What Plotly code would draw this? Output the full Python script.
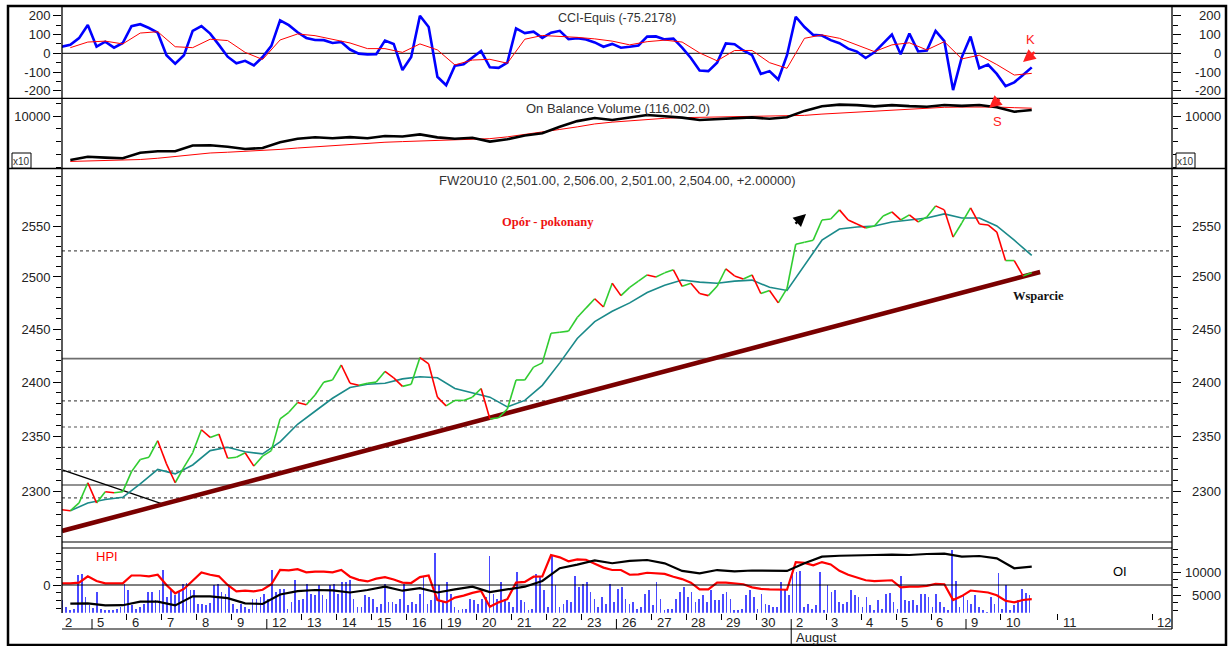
import math
import plotly.graph_objects as go

W, H = 1230, 646
FONT = "Liberation Sans, Arial, sans-serif"
SERIF = "Liberation Serif, Times New Roman, serif"
TXT = "#222222"

# ------------------------------------------------------------------ data
# time axis: trading-day index (Jul 5 = 0 ... Aug 10 = 26)
DAY_LABELS = ["2", "5", "6", "7", "8", "9", "12", "13", "14", "15", "16", "19", "20", "21", "22",
              "23", "26", "27", "28", "29", "30", "2", "3", "4", "5", "6", "9", "10", "11", "12"]
DAY_INDEX = [-1, 0, 1, 2, 3, 4, 5, 6, 7, 8, 9, 10, 11, 12, 13,
             14, 15, 16, 17, 18, 19, 20, 21, 22, 23, 24, 25, 26, 27.63, 30.32]
WEEK_STARTS = [0, 5, 10, 15, 20, 25]
MONTH_START = 20
MONTH_NAME = "August"
X_RANGE = [-0.858, 30.892]

# FW20U10 close, quarter-day samples starting at day -0.87
PRICE_T0, PRICE_STEP = -0.87, 0.25
PRICE = [2284, 2283, 2290, 2308, 2290, 2300, 2299, 2300, 2318, 2329,
         2331, 2346, 2325, 2308, 2322, 2335, 2356, 2349, 2352, 2330,
         2331, 2335, 2323, 2332, 2337, 2366, 2372, 2381, 2379, 2388,
         2400, 2402, 2416, 2399, 2397, 2399, 2400, 2410, 2404, 2396,
         2398, 2423, 2417, 2386, 2378, 2383, 2383, 2386, 2394, 2366,
         2367, 2375, 2402, 2402, 2414, 2418, 2446, 2447, 2448, 2461,
         2470, 2479, 2471, 2494, 2482, 2490, 2496, 2502, 2500, 2504,
         2507, 2491, 2494, 2484, 2482, 2491, 2508, 2501, 2498, 2502,
         2484, 2487, 2475, 2489, 2532, 2534, 2536, 2556, 2557, 2566,
         2556, 2552, 2548, 2550, 2560, 2564, 2556, 2561, 2554, 2559,
         2570, 2566, 2539, 2553, 2568, 2552, 2551, 2544, 2516, 2516,
         2501, 2504]

# half-day samples starting at day -0.62
HALF_T0, HALF_STEP = -0.62, 0.5
PRICE_MA = [2283, 2290, 2293, 2295, 2307, 2320, 2316, 2324, 2337, 2340,
            2336, 2334, 2345, 2361, 2373, 2385, 2395, 2398, 2399, 2403,
            2405, 2404, 2394, 2390, 2386, 2377, 2383, 2397, 2418, 2441,
            2457, 2467, 2475, 2485, 2492, 2497, 2495, 2494, 2496, 2497,
            2490, 2487, 2512, 2536, 2547, 2549, 2550, 2554, 2556, 2558,
            2562, 2558, 2558, 2550, 2536, 2521]

CCI = [35, 45, 81, 151, 35, 62, 30, 55, 145, 155,
       135, 110, -10, -55, -10, 120, 145, 105, 45, -18,
       -53, -40, -65, -20, 40, 176, 150, 112, 82, 71,
       70, 55, 60, 20, -2, -6, -5, 68, 50, -89,
       -20, 200, 140, -125, -170, -66, -58, -25, 12, -75,
       -78, -50, 133, 108, 115, 82, 110, 120, 75, 80,
       74, 58, 35, 50, 30, 35, 42, 89, 90, 74,
       78, 30, -25, -92, -95, -50, 53, 48, 15, -10,
       -110, -95, -140, -10, 195, 140, 98, 95, 70, 54,
       25, 9, -25, 5, 53, 100, -5, 105, 10, 15,
       120, 65, -196, -20, 89, -80, -60, -110, -175, -155,
       -116, -75]
CCI_MA = [30, 60, 65, 50, 108, 115, 35, 30, 75, 68,
          5, -33, 71, 103, 94, 76, 55, 25, 25, 5,
          50, 18, -62, -36, -32, -53, 75, 95, 92, 85,
          77, 65, 45, 62, 70, 60, 2, -40, 15, 15,
          -50, -80, 80, 98, 80, 45, 9, 45, 56, 18,
          62, -30, -10, -60, -116, -107]

OBV = [6563, 6820, 6750, 6700, 7133, 7250, 7250, 7700, 7720, 7600,
       7420, 7500, 7950, 8220, 8340, 8260, 8350, 8260, 8438, 8400,
       8560, 8330, 8220, 8305, 8000, 8180, 8470, 8648, 9164, 9600,
       9840, 9690, 9880, 10078, 9980, 9870, 9690, 9760, 9820, 9890,
       9780, 9898, 10400, 10760, 10890, 10850, 10750, 10850, 10770, 10727,
       10859, 10790, 10859, 10680, 10336, 10469]
OBV_MA = [6450, 6480, 6520, 6560, 6600, 6700, 6850, 7000, 7110, 7170,
          7230, 7300, 7390, 7500, 7600, 7700, 7800, 7900, 7950, 8000,
          8050, 8100, 8140, 8180, 8230, 8370, 8550, 8750, 8950, 9150,
          9380, 9520, 9640, 9740, 9820, 9870, 9900, 9920, 9940, 9950,
          9960, 9990, 10050, 10150, 10230, 10300, 10380, 10450, 10560, 10620,
          10680, 10700, 10720, 10700, 10650, 10610]

HPI = [0.2, 0.2, 0.3, 1.1, 0.5, 0.2, 0.2, 0.2, 1.2, 1.2,
       1.1, 1.3, 0.0, -1.05, -0.5, 0.6, 1.6, 1.3, 1.1, 0.0,
       -0.8, -0.7, -0.8, -0.6, 0.1, 1.9, 1.85, 2.0, 1.6, 1.7,
       1.7, 1.6, 1.9, 1.05, 0.65, 0.45, 0.8, 1.0, 0.7, 0.3,
       0.25, 1.0, 1.2, -1.9, -2.2, -1.6, -1.35, -1.0, -0.75, -2.75,
       -2.2, -1.8, 0.3, 0.4, 1.05, 1.1, 3.8, 3.5, 3.0, 3.25,
       3.2, 2.7, 2.2, 1.9, 1.9, 1.3, 1.35, 1.55, 1.5, 1.4,
       1.05, 0.75, 0.3, -0.55, -0.55, 0.3, 0.3, 0.2, 0.1, -0.3,
       -0.5, -0.55, -0.6, -0.6, 2.9, 2.8, 2.5, 2.9, 2.6, 1.8,
       1.3, 0.95, 0.6, 0.5, 0.55, 0.6, -0.3, -0.2, -0.2, -0.1,
       0.15, 0.1, -1.9, -1.4, -0.7, -0.8, -0.95, -1.3, -2.0, -2.2,
       -1.9, -1.8]

OI = [3100, 3172, 2700, 2750, 3524, 3524, 2700, 4700, 4700, 4300,
      3172, 3020, 5100, 5850, 6100, 6000, 5550, 6100, 6828, 5947,
      6500, 5550, 6250, 6828, 5650, 6300, 6828, 8100, 10900, 11700,
      12600, 12000, 12500, 12709, 11982, 10300, 9780, 10500, 10200, 10400,
      10400, 10300, 12000, 13436, 13650, 13811, 13811, 13900, 13811, 14031,
      14100, 13436, 13590, 13084, 10881, 11233]

# volume, 9 bars per day starting at day -0.85
VOL_T0, VOL_STEP = -0.85, 1.0 / 9.0
VOLUME = [1300, 600, 300, 400, 3800, 3900, 1600, 800, 500, 2100,
          400, 300, 300, 300, 400, 600, 2900, 2300, 800, 400,
          600, 900, 2100, 2100, 1300, 2300, 4300, 1600, 2300, 1800,
          2100, 2900, 3000, 2300, 2300, 900, 900, 800, 1000, 2800,
          2900, 2100, 1900, 2800, 900, 400, 900, 600, 400, 1400,
          1400, 1600, 1900, 1400, 4300, 2100, 2400, 2400, 400, 1100,
          3300, 1300, 1400, 2900, 1900, 1800, 2800, 1800, 1400, 2800,
          2900, 1900, 3100, 3100, 3300, 1400, 600, 600, 1800, 1600,
          1400, 600, 900, 2900, 1100, 1100, 900, 1400,
          2900, 800, 1100, 900, 1900, 3600, 900, 1300, 6000, 2800,
          1100, 3100, 1900, 600, 300, 400, 400, 1400, 1300, 900,
          1400, 1600, 5700, 1900, 1400, 3100, 1400, 1100, 600, 4100,
          1300, 1100, 300, 400, 3900, 3600, 2300, 600, 5800, 2800,
          600, 900, 1300, 1100, 3700, 2600, 2900, 3100, 2100, 1400,
          600, 1600, 900, 2900, 1100, 2400, 2600, 1400, 900, 1100,
          400, 600, 1900, 2300, 800, 3100, 1400, 300, 400, 400,
          1400, 2100, 2600, 1600, 2100, 1100, 1400, 1800, 1100, 2300,
          1300, 1300, 1900, 2100, 1400, 300, 300, 400, 1800, 2300,
          1600, 400, 1900, 900, 800, 600, 600, 3100, 2400, 1800,
          3900, 4100, 4200, 600, 900, 400, 800,
          4100, 300, 2800, 2100, 2300, 1100, 900, 1100, 2300, 1800,
          1600, 600, 1600, 800, 300, 1300, 400, 1900, 2000, 1100,
          400, 3700, 1300, 1200, 1300, 800, 1900, 1900, 1600, 600,
          1900, 1100, 600, 300, 6300, 3200, 600, 1900, 1300, 900,
          1800, 600, 300, 100, 1600, 900, 4000, 400, 2800, 300,
          800, 1300, 2400, 2000, 1800]

# horizontal price levels and drawn trend lines
LEVELS_DASHED = [2525.5, 2382.5, 2358.5, 2340, 2318.5, 2294.5]
LEVELS_SOLID = [2422, 2306]
SUPPORT_T = [-0.858, 27.12]
SUPPORT_P = [2265.2, 2504.9]
DOWNTREND_T = [-0.83, 2.03]
DOWNTREND_P = [2319.4, 2289.0]

CCI_TICKS = [200, 100, 0, -100, -200]
OBV_TICKS = [10000]
PRICE_TICKS = [2300, 2350, 2400, 2450, 2500, 2550]
OI_TICKS = [10000, 5000]

TITLE_CCI = "CCI-Equis (-75.2178)"
TITLE_OBV = "On Balance Volume (116,002.0)"
TITLE_MAIN = "FW20U10 (2,501.00, 2,506.00, 2,501.00, 2,504.00, +2.00000)"


# ------------------------------------------------------------------ helpers
def seq(t0, step, n):
    return [t0 + step * k for k in range(n)]


def px(xp):
    return xp / W


def py(yp):
    return 1 - yp / H


x_q = seq(PRICE_T0, PRICE_STEP, len(PRICE))
x_h = seq(HALF_T0, HALF_STEP, len(PRICE_MA))
x_v = seq(VOL_T0, VOL_STEP, len(VOLUME))

XDOM = [px(62), px(1172)]
D_CCI = [py(98.3), py(7.3)]
D_OBV = [py(168.5), py(98.3)]
D_MAIN = [py(542), py(169)]
D_HPI = [py(612.7), py(548)]

R_CCI = [-240, 245.3]
R_OBV = [5898, 11383]
R_MAIN = [3.353243, 3.416154]
R_HPI = [-3.506, 4.684]
R_OI = [1101, 15352]
R_VOL = [0, 6470]

fig = go.Figure()


def line(x, y, yaxis, color, width, dash=None):
    fig.add_trace(go.Scatter(x=x, y=y, mode="lines", xaxis="x", yaxis=yaxis,
                             line=dict(color=color, width=width, dash=dash),
                             hoverinfo="skip", connectgaps=False))


# CCI panel
line(x_q, CCI, "y", "#0000ff", 2.6)
line(x_h, CCI_MA, "y", "#ff0000", 1)
line([], [], "y2", "#000", 1)

# OBV panel
line(x_h, OBV_MA, "y3", "#ff0000", 1)
line(x_h, OBV, "y3", "#000000", 2.6)
line([], [], "y4", "#000", 1)

# main panel
for lv in LEVELS_DASHED:
    line(X_RANGE, [lv, lv], "y5", "#555555", 1.2, "3px,3px")
for lv in LEVELS_SOLID:
    line(X_RANGE, [lv, lv], "y5", "#6e6e6e", 1.6)
line(DOWNTREND_T, DOWNTREND_P, "y5", "#000000", 1.3)
line(SUPPORT_T, SUPPORT_P, "y5", "#7a0000", 4.5)
line(x_h, PRICE_MA, "y5", "#1b8a8a", 1.6)

gx, gy, rx, ry = [], [], [], []
for k in range(1, len(PRICE)):
    if PRICE[k] >= PRICE[k - 1]:
        gx += [x_q[k - 1], x_q[k], None]
        gy += [PRICE[k - 1], PRICE[k], None]
    else:
        rx += [x_q[k - 1], x_q[k], None]
        ry += [PRICE[k - 1], PRICE[k], None]
line(gx, gy, "y5", "#30cc30", 1.6)
line(rx, ry, "y5", "#ff0000", 1.6)
line([], [], "y6", "#000", 1)

# HPI / OI / volume panel
fig.add_trace(go.Bar(x=x_v, y=VOLUME, xaxis="x", yaxis="y7", width=0.05,
                     marker=dict(color="#4a4aff", line=dict(width=0)), hoverinfo="skip"))
line(x_h, OI, "y9", "#000000", 2.2)
line(x_q, HPI, "y8", "#ff0000", 2.2)

# ------------------------------------------------------------------ axes
tickstyle = dict(showgrid=False, zeroline=False, showline=False, ticks="outside",
                 ticklen=8, tickwidth=1, tickcolor="#000",
                 tickfont=dict(family=FONT, size=13, color=TXT), fixedrange=True)


def minor(**kw):
    d = dict(ticks="outside", ticklen=5, tickwidth=1, tickcolor="#000", showgrid=False)
    d.update(kw)
    return d


layout = dict(
    width=W, height=H, margin=dict(l=0, r=0, t=0, b=0),
    paper_bgcolor="white", plot_bgcolor="white", showlegend=False,
    hovermode=False, bargap=0,
    xaxis=dict(domain=XDOM, range=X_RANGE, anchor="y7", showgrid=False, zeroline=False,
               showline=False, ticks="outside", ticklen=6, tickcolor="#000",
               tickvals=[d for d in DAY_INDEX if d not in WEEK_STARTS and d > X_RANGE[0]],
               showticklabels=False, fixedrange=True),
    yaxis=dict(domain=D_CCI, range=R_CCI, anchor="x", side="left",
               tickvals=CCI_TICKS, ticktext=[str(v) for v in CCI_TICKS],
               minor=minor(dtick=50, tick0=0), **tickstyle),
    yaxis2=dict(overlaying="y", range=R_CCI, anchor="x", side="right",
                tickvals=CCI_TICKS, showticklabels=False,
                minor=minor(dtick=50, tick0=0), **tickstyle),
    yaxis3=dict(domain=D_OBV, range=R_OBV, anchor="x", side="left",
                tickvals=OBV_TICKS, ticktext=[str(v) for v in OBV_TICKS],
                minor=minor(dtick=1000, tick0=0), **tickstyle),
    yaxis4=dict(overlaying="y3", range=R_OBV, anchor="x", side="right",
                tickvals=OBV_TICKS, showticklabels=False,
                minor=minor(dtick=1000, tick0=0), **tickstyle),
    yaxis5=dict(domain=D_MAIN, range=R_MAIN, type="log", anchor="x", side="left",
                tickvals=PRICE_TICKS, ticktext=[str(v) for v in PRICE_TICKS],
                minor=minor(tickmode="array", tickvals=list(range(2260, 2610, 10))),
                **tickstyle),
    yaxis6=dict(overlaying="y5", range=R_MAIN, type="log", anchor="x", side="right",
                tickvals=PRICE_TICKS, showticklabels=False,
                minor=minor(tickmode="array", tickvals=list(range(2260, 2610, 10))),
                **tickstyle),
    yaxis7=dict(domain=D_HPI, range=R_VOL, anchor="x", side="left", showticklabels=False,
                showgrid=False, zeroline=False, showline=False, ticks="", fixedrange=True),
    yaxis8=dict(overlaying="y7", range=R_HPI, anchor="x", side="left",
                tickvals=[0], ticktext=["0"], minor=minor(dtick=1, tick0=0), **tickstyle),
    yaxis9=dict(overlaying="y7", range=R_OI, anchor="x", side="right",
                tickvals=OI_TICKS, showticklabels=False,
                minor=minor(dtick=5000 / 3, tick0=0), **tickstyle),
)
fig.update_layout(**layout)

# ------------------------------------------------------------------ frame & decorations
shapes = []


def hline(y, x0, x1, w=1.3, color="#000"):
    shapes.append(dict(type="line", xref="paper", yref="paper", x0=px(x0), x1=px(x1),
                       y0=py(y), y1=py(y), line=dict(color=color, width=w)))


def vline(x, y0, y1, w=1.3, color="#000"):
    shapes.append(dict(type="line", xref="paper", yref="paper", x0=px(x), x1=px(x),
                       y0=py(y0), y1=py(y1), line=dict(color=color, width=w)))


shapes.append(dict(type="rect", xref="paper", yref="paper", x0=px(8), x1=px(1226),
                   y0=py(645), y1=py(6), line=dict(color="#000", width=2.5)))
vline(62, 6, 613)
vline(1172, 6, 629)
hline(98.3, 8, 1226)
hline(168.5, 8, 1226, 1.5)
hline(542, 62, 1172, 1.2)
hline(548, 62, 1172, 1.2)
hline(629, 62, 1172, 1.2)
# zero lines
shapes.append(dict(type="line", xref="paper", yref="y", x0=px(62), x1=px(1172), y0=0, y1=0,
                   line=dict(color="#000", width=1), layer="below"))
shapes.append(dict(type="line", xref="paper", yref="y8", x0=px(62), x1=px(1172), y0=0, y1=0,
                   line=dict(color="#000", width=1)))
# week / month separators on the time axis
for ws in WEEK_STARTS:
    y_end = 646 if ws == MONTH_START else 629
    shapes.append(dict(type="line", xref="x", yref="paper", x0=ws, x1=ws,
                       y0=py(619), y1=py(y_end), line=dict(color="#000", width=1)))
# x10 boxes
for bx0, bx1 in [(12, 31), (1176, 1195)]:
    shapes.append(dict(type="rect", xref="paper", yref="paper", x0=px(bx0), x1=px(bx1),
                       y0=py(168), y1=py(153), line=dict(color="#000", width=1),
                       fillcolor="white"))
fig.update_layout(shapes=shapes)

ann = []


def text(t, x, y, size=13, color=TXT, family=FONT, xanchor="center", bold=False,
         xref="paper", yref="paper"):
    ann.append(dict(text=("<b>%s</b>" % t) if bold else t, x=x, y=y, xref=xref, yref=yref,
                    showarrow=False, xanchor=xanchor, yanchor="middle",
                    font=dict(family=family, size=size, color=color)))


text(TITLE_CCI, px(617), py(18), 12.5, "#333")
text(TITLE_OBV, px(618), py(109), 13, "#333")
text(TITLE_MAIN, px(617), py(180), 13, "#333")
text("Opór - pokonany", px(548), py(222), 12.5, "#ee1111", SERIF, bold=True)
text("Wsparcie", px(1038), py(296), 12.5, "#111", SERIF, bold=True)
text("K", px(1030), py(39), 13, "#ff2020")
text("S", px(997), py(122), 13, "#ff2020")
text("HPI", px(107), py(556), 13, "#ff0000")
text("OI", px(1120), py(571), 13, "#000")
text("x10", px(21.5), py(161), 10, "#333")
text("x10", px(1185.5), py(161), 10, "#333")
text(MONTH_NAME, px(794), py(637), 13, TXT, xanchor="left")

# right-hand tick labels
for v in CCI_TICKS:
    text(str(v), px(1223), v, 13, TXT, xanchor="right", yref="y")
for v in OBV_TICKS:
    text(str(v), px(1223), v, 13, TXT, xanchor="right", yref="y3")
for v in PRICE_TICKS:
    text(str(v), px(1223), math.log10(v), 13, TXT, xanchor="right", yref="y5")
for v in OI_TICKS:
    text(str(v), px(1223), v, 13, TXT, xanchor="right", yref="y9")

# day labels
for lab, d in zip(DAY_LABELS, DAY_INDEX):
    xd = max(d + 0.09, X_RANGE[0] + 0.02)
    text(lab, xd, py(622), 13, TXT, xanchor="left", xref="x")

# arrows
for (hx, hy, ax, ay, col) in [(1023, 62, 13, -11, "#ff2020"), (989, 108, 12, -10, "#ff2020"),
                             (806, 214, -12, 11, "#000")]:
    ann.append(dict(x=px(hx), y=py(hy), xref="paper", yref="paper", ax=ax, ay=ay,
                    axref="pixel", ayref="pixel", showarrow=True, arrowhead=2,
                    arrowsize=1, arrowwidth=2.5, arrowcolor=col, text="", standoff=0))

fig.update_layout(annotations=ann)
fig.write_html("out.html", config={"displayModeBar": False, "staticPlot": True},
               post_script="document.body.style.margin='0px';")
